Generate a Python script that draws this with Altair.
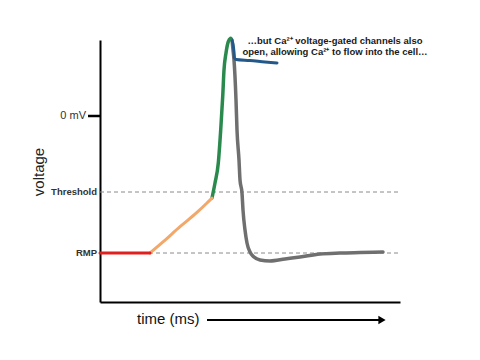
import altair as alt
import pandas as pd

FONT = "Liberation Sans"

# Curve segments: time (arbitrary units) and voltage (arbitrary units)
red_t = [0, 50]
red_v = [49, 49]

orange_t = [50, 63.3, 80, 96.7, 106.7, 112]
orange_v = [49, 60.3, 75.3, 89.3, 98.7, 104]

green_t = [112, 115, 118.3, 120.7, 122.7, 124, 126, 128.3, 130.7]
green_v = [104, 119, 139, 172, 205.3, 232, 249, 260.3, 263.7]

blue_t = [131, 133, 134, 134.5, 136, 150, 165, 177]
blue_v = [263.5, 258, 250, 244, 242.5, 241.5, 240, 239]

gray_t = [132, 133, 134, 136, 137, 139, 140, 142, 143, 145, 147, 150, 154, 160,
          170, 185, 200, 220, 240, 260, 283]
gray_v = [262, 252, 242, 202, 172, 142, 122, 109, 92, 72, 59, 50, 45, 42,
          41, 43, 45, 48, 49, 49.5, 50]

# Reference levels
level_v = [186, 110, 49]
level_names = ["0 mV", "Threshold", "RMP"]
dashed_v = [110, 49]

note_lines = ["\u2026but Ca\u00b2\u207a voltage-gated channels also",
              "open, allowing Ca\u00b2\u207a to flow into the cell\u2026"]
note_t = [235, 235]
note_v = [261, 250]


def seg(t, v):
    return pd.DataFrame({"t": t, "v": v, "i": list(range(len(t)))})


xs = alt.Scale(domain=[0, 300], nice=False, zero=False)
ys = alt.Scale(domain=[0, 262], nice=False, zero=False)

x_axis = alt.Axis(domain=True, domainColor="black", domainWidth=2, ticks=False,
                  labels=False, grid=False, title=None)
y_axis = alt.Axis(domain=True, domainColor="black", domainWidth=2, ticks=False,
                  labels=False, grid=False, title=None)

dash_df = pd.DataFrame({"v": dashed_v})
dashed = alt.Chart(dash_df).mark_rule(color="#8a8a8a", strokeWidth=1, strokeDash=[4, 3]).encode(
    y=alt.Y("v:Q", scale=ys, axis=y_axis),
    x=alt.value(0), x2=alt.value(300)
)

axis_base = alt.Chart(pd.DataFrame({"t": [0, 300], "v": [0, 262]})).mark_point(opacity=0).encode(
    x=alt.X("t:Q", scale=xs, axis=x_axis),
    y=alt.Y("v:Q", scale=ys, axis=y_axis),
)


def line(t, v, color, w):
    return alt.Chart(seg(t, v)).mark_line(color=color, strokeWidth=w, interpolate="monotone",
                                          strokeCap="round", strokeJoin="round").encode(
        x=alt.X("t:Q", scale=xs, axis=x_axis),
        y=alt.Y("v:Q", scale=ys, axis=y_axis),
        order="i:Q",
    )


gray = line(gray_t, gray_v, "#6f6f6f", 3.5)
blue = line(blue_t, blue_v, "#23598a", 3)
green = line(green_t, green_v, "#2a8a4e", 3.5)
orange = line(orange_t, orange_v, "#f2a86a", 3)
red = line(red_t, red_v, "#e0201e", 3)

lev_df = pd.DataFrame({"v": level_v, "name": level_names})
zero_tick = alt.Chart(lev_df.iloc[[0]]).mark_rule(color="black", strokeWidth=2.5).encode(
    y=alt.Y("v:Q", scale=ys), x=alt.value(-12), x2=alt.value(0)
)
zero_label = alt.Chart(lev_df.iloc[[0]]).mark_text(align="right", baseline="middle", font=FONT,
                                                    fontSize=11, color="#333").encode(
    y=alt.Y("v:Q", scale=ys), x=alt.value(-14), text="name:N"
)
other_labels = alt.Chart(lev_df.iloc[[1, 2]]).mark_text(align="right", baseline="middle", font=FONT,
                                                         fontSize=9.5, fontWeight=600, color="#333").encode(
    y=alt.Y("v:Q", scale=ys), x=alt.value(-3), text="name:N"
)

ytitle = alt.Chart(pd.DataFrame({"s": ["voltage"]})).mark_text(
    angle=270, align="center", baseline="middle", font=FONT, fontSize=15, color="#222"
).encode(x=alt.value(-61), y=alt.value(132), text="s:N")

xtitle = alt.Chart(pd.DataFrame({"s": ["time (ms)"]})).mark_text(
    align="left", baseline="middle", font=FONT, fontSize=15, color="#111"
).encode(x=alt.value(37), y=alt.value(279), text="s:N")

arrow_line = alt.Chart(pd.DataFrame({"a": [0]})).mark_rule(color="black", strokeWidth=2).encode(
    x=alt.value(107), x2=alt.value(280), y=alt.value(280)
)
arrow_head = alt.Chart(pd.DataFrame({"a": [0]})).mark_point(
    shape="triangle-right", filled=True, color="black", size=70, opacity=1
).encode(x=alt.value(282), y=alt.value(280))

note_df = pd.DataFrame({"t": note_t, "v": note_v, "s": note_lines})
note = alt.Chart(note_df).mark_text(align="center", baseline="middle", font=FONT, fontSize=9.5,
                                    fontWeight="bold", color="#1a1a1a").encode(
    x=alt.X("t:Q", scale=xs), y=alt.Y("v:Q", scale=ys), text="s:N"
)

chart = alt.layer(
    axis_base, dashed, gray, blue, green, orange, red,
    zero_tick, zero_label, other_labels, ytitle, xtitle, arrow_line, arrow_head, note
).properties(
    width=300, height=262,
    autosize=alt.AutoSizeParams(type="none"),
    padding={"left": 92, "top": 32, "right": 72, "bottom": 50},
    background="white",
).configure_view(stroke=None)

chart.save("out.html", embed_options={"renderer": "svg", "actions": False})
